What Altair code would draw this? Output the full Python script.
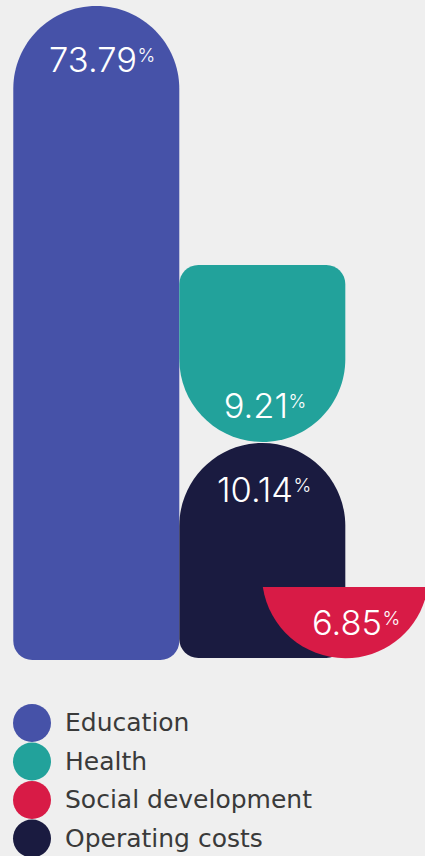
import altair as alt
import pandas as pd

# ---- data ----
categories = ["Education", "Health", "Social development", "Operating costs"]
shares = [73.79, 9.21, 6.85, 10.14]
colors = ["#4652A8", "#22A29B", "#D81B46", "#1A1B40"]

# ---- layout of the infographic shapes (chart units) ----
x_left = [0.0, 1.0, 1.5, 1.0]
x_right = [1.0, 2.0, 2.5, 2.0]
y_bottom = [0, 218, 0, 2]
y_top = [654, 395, 73, 217]
label_x = [0.745, 1.655, 2.221, 1.685]
label_y = [588, 242, 25, 158]

df = pd.DataFrame({
    "category": categories,
    "share": shares,
    "label": [f"{v:.2f}" for v in shares],
    "x0": x_left,
    "x1": x_right,
    "xc": [(a + b) / 2 for a, b in zip(x_left, x_right)],
    "y0": y_bottom,
    "y1": y_top,
    "lx": label_x,
    "ly": label_y,
})

xscale = alt.Scale(domain=[-0.08, 2.48], nice=False, zero=False)
yscale = alt.Scale(domain=[0, 660], nice=False, zero=False)
color = alt.Color(
    "category:N",
    scale=alt.Scale(domain=categories, range=colors),
    sort=categories,
    legend=alt.Legend(title=None, symbolType="circle"),
)

base = alt.Chart(df)


def bar(cat, tl, tr, bl, br):
    return base.transform_filter(alt.datum.category == cat).mark_bar(
        cornerRadiusTopLeft=tl, cornerRadiusTopRight=tr,
        cornerRadiusBottomLeft=bl, cornerRadiusBottomRight=br,
    ).encode(
        x=alt.X("x0:Q", scale=xscale, axis=None),
        x2="x1:Q",
        y=alt.Y("y0:Q", scale=yscale, axis=None),
        y2="y1:Q",
        color=color,
    )


edu = bar("Education", 83, 83, 19, 19)
health = bar("Health", 19, 19, 83, 83)
oper = bar("Operating costs", 83, 83, 19, 19)

segment_path = "M -1 0 A 1.011 1.011 0 0 0 1 0 Z"
social = base.transform_filter(alt.datum.category == "Social development").mark_point(
    shape=segment_path, filled=True, size=165 * 165, opacity=1, strokeWidth=0
).encode(
    x=alt.X("xc:Q", scale=xscale, axis=None),
    y=alt.Y("y1:Q", scale=yscale, axis=None),
    color=color,
)

nums = base.mark_text(
    align="right", baseline="alphabetic", font="Inter", fontWeight=300,
    fontSize=34.5, color="white"
).encode(
    x=alt.X("lx:Q", scale=xscale, axis=None),
    y=alt.Y("ly:Q", scale=yscale, axis=None),
    text="label:N",
)
pct = base.mark_text(
    align="left", baseline="alphabetic", font="Inter", fontWeight=300,
    fontSize=19, color="white", dx=0.5, dy=-10, text="%",
).encode(
    x=alt.X("lx:Q", scale=xscale, axis=None),
    y=alt.Y("ly:Q", scale=yscale, axis=None),
)

chart = alt.layer(edu, health, oper, social, nums, pct).properties(
    width=425, height=660,
    autosize=alt.AutoSizeParams(type="none"),
    padding={"left": 0, "top": 0, "right": 0, "bottom": 196},
    background="#efefef",
).configure_view(stroke=None).configure_legend(
    orient="none", legendX=13, legendY=704, padding=0,
    symbolSize=1444, symbolStrokeWidth=0, symbolOpacity=1,
    labelFont="DejaVu Sans", labelFontSize=25, labelColor="#3a3a3a",
    labelOffset=14, rowPadding=0.5, labelLimit=400,
)

chart.save("out.html", embed_options={"renderer": "svg", "actions": False})
